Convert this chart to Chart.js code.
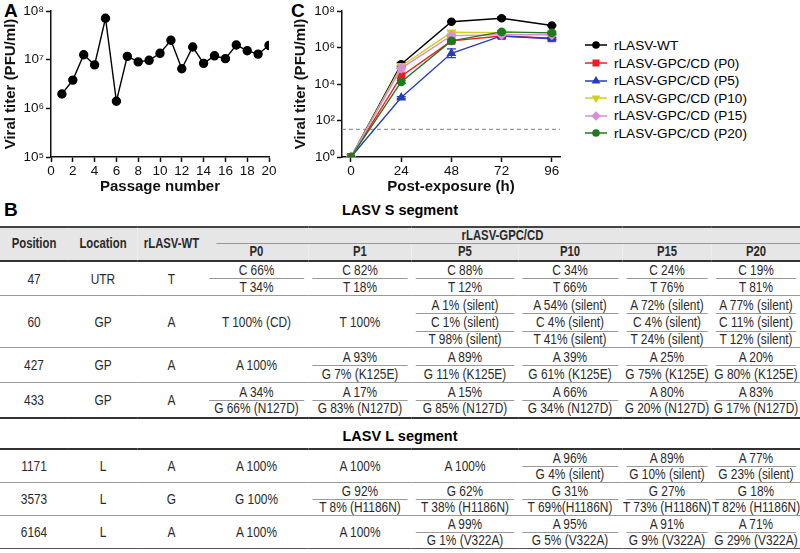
<!DOCTYPE html>
<html>
<head>
<meta charset="utf-8">
<script src="https://cdn.jsdelivr.net/npm/chart.js@4.4.1/dist/chart.umd.min.js"></script>
<style>
  body { margin: 0; width: 800px; height: 553px; position: relative; background: #fff; font-family: "Liberation Sans", Arial, sans-serif; overflow: hidden; }
  .abs { position: absolute; }
  .panel { font-weight: bold; font-size: 19px; }
  #legend div { position: absolute; left: 0; height: 16px; line-height: 16px; font-size: 13.6px; white-space: nowrap; }
  #legend canvas { vertical-align: middle; margin-right: 7px; position: relative; top: -1px; }
  .seg { font-weight: bold; font-size: 14.5px; width: 800px; text-align: center; }
  .squeeze { transform: scaleX(0.82); transform-origin: 0 0; }
  table { border-collapse: collapse; table-layout: fixed; width: 975.6px; font-size: 14.5px; color: #2a2a2a; }
  td, th { padding: 0; text-align: center; vertical-align: middle; overflow: hidden; white-space: nowrap; line-height: 16px; }
  th { font-weight: bold; background: #e6e6e6; font-size: 13.8px; }
  .sub { background: linear-gradient(#999, #999) no-repeat center top / calc(100% - 10px) 1px; }
  .rowtop td { border-top: 1.5px solid #9a9a9a; }
</style>
</head>
<body>
<div class="abs panel" style="left:4px; top:0px;">A</div>
<div class="abs panel" style="left:291px; top:0px;">C</div>
<div class="abs panel" style="left:4px; top:199px;">B</div>

<div class="abs" style="left:0; top:0; width:280px; height:200px;"><canvas id="chartA"></canvas></div>
<div class="abs" style="left:290px; top:0; width:280px; height:200px;"><canvas id="chartC"></canvas></div>
<div id="legend" class="abs" style="left:585px; top:38px; width:215px; height:110px;"></div>

<div class="abs seg" style="left:0; top:202px;">LASV S segment</div>
<div class="abs squeeze" style="left:0; top:226px;"><table id="tableS"></table></div>
<div class="abs seg" style="left:0; top:428px;">LASV L segment</div>
<div class="abs squeeze" style="left:0; top:448px;"><table id="tableL"></table></div>

<script>
// panel A: titer over passages
const passages = [1, 2, 3, 4, 5, 6, 7, 8, 9, 10, 11, 12, 13, 14, 15, 16, 17, 18, 19, 20]
const passageTiter = [1.97e6, 3.8e6, 1.26e7, 7.8e6, 7.1e7, 1.4e6, 1.17e7, 9.0e6, 9.7e6, 1.35e7,
  2.5e7, 6.5e6, 1.82e7, 8.4e6, 1.2e7, 1.05e7, 2.0e7, 1.53e7, 1.3e7, 1.96e7]

// panel C: growth kinetics
const hours = [0, 24, 48, 72, 96]
const seriesNames = ["rLASV-WT", "rLASV-GPC/CD (P0)", "rLASV-GPC/CD (P5)", "rLASV-GPC/CD (P10)", "rLASV-GPC/CD (P15)", "rLASV-GPC/CD (P20)"]
const wtTiter = [1, 1.2e5, 2.6e7, 4.0e7, 1.6e7]
const p0Titer = [1, 2.7e4, 2.3e6, 4.3e6, 3.2e6]
const p5Titer = [1, 1.8e3, 4.8e5, 4.3e6, 3.0e6]
const p10Titer = [1, 9.5e4, 6.8e6, 6.5e6, 6.5e6]
const p15Titer = [1, 7.2e4, 4.5e6, 5.0e6, 5.0e6]
const p20Titer = [1, 1.3e4, 2.3e6, 7.2e6, 6.3e6]
// error bars, half range in log10 units
const wtErr = [0, 0.1, 0.03, 0.07, 0.03]
const p0Err = [0, 0.12, 0.08, 0.08, 0.05]
const p5Err = [0, 0.05, 0.24, 0.05, 0.05]
const p10Err = [0, 0.12, 0.08, 0.05, 0.05]
const p15Err = [0, 0.15, 0.05, 0.05, 0.05]
const p20Err = [0, 0.08, 0.05, 0.05, 0.05]
const detectionLimit = 33

// panel B: tables
const pHeaders = ["P0", "P1", "P5", "P10", "P15", "P20"]
const sRows = [
  ["47", "UTR", "T", [["C 66%", "T 34%"], ["C 82%", "T 18%"], ["C 88%", "T 12%"], ["C 34%", "T 66%"], ["C 24%", "T 76%"], ["C 19%", "T 81%"]]],
  ["60", "GP", "A", [["T 100% (CD)"], ["T 100%"], ["A 1% (silent)", "C 1% (silent)", "T 98% (silent)"], ["A 54% (silent)", "C 4% (silent)", "T 41% (silent)"], ["A 72% (silent)", "C 4% (silent)", "T 24% (silent)"], ["A 77% (silent)", "C 11% (silent)", "T 12% (silent)"]]],
  ["427", "GP", "A", [["A 100%"], ["A 93%", "G 7% (K125E)"], ["A 89%", "G 11% (K125E)"], ["A 39%", "G 61% (K125E)"], ["A 25%", "G 75% (K125E)"], ["A 20%", "G 80% (K125E)"]]],
  ["433", "GP", "A", [["A 34%", "G 66% (N127D)"], ["A 17%", "G 83% (N127D)"], ["A 15%", "G 85% (N127D)"], ["A 66%", "G 34% (N127D)"], ["A 80%", "G 20% (N127D)"], ["A 83%", "G 17% (N127D)"]]]
]
const lRows = [
  ["1171", "L", "A", [["A 100%"], ["A 100%"], ["A 100%"], ["A 96%", "G 4% (silent)"], ["A 89%", "G 10% (silent)"], ["A 77%", "G 23% (silent)"]]],
  ["3573", "L", "G", [["G 100%"], ["G 92%", "T 8% (H1186N)"], ["G 62%", "T 38% (H1186N)"], ["G 31%", "T 69%(H1186N)"], ["G 27%", "T 73% (H1186N)"], ["G 18%", "T 82% (H1186N)"]]],
  ["6164", "L", "A", [["A 100%"], ["A 100%"], ["A 99%", "G 1% (V322A)"], ["A 95%", "G 5% (V322A)"], ["A 91%", "G 9% (V322A)"], ["A 71%", "G 29% (V322A)"]]]
]
const colWidths = [68, 70, 67, 103, 104, 106, 104, 90, 88]
const squeeze = 0.82

const supDigits = {"0": "⁰", "1": "¹", "2": "²", "3": "³", "4": "⁴", "5": "⁵", "6": "⁶", "7": "⁷", "8": "⁸"}
function powLabel(v) {
  let e = Math.round(Math.log10(v))
  return "10" + String(e).split("").map(d => supDigits[d]).join("")
}

const tickFont = { family: "Liberation Sans", size: 13.5 }
const titleFont = { family: "Liberation Sans", size: 15, weight: "bold" }
const axisGrid = { display: true, drawOnChartArea: false, drawTicks: true, tickLength: 5, tickWidth: 1.5, color: "#111" }
const axisBorder = { display: true, color: "#111", width: 1.5 }

// ----- chart A -----
new Chart(document.getElementById("chartA"), {
  type: "line",
  data: {
    labels: passages,
    datasets: [{
      data: passages.map((p, i) => ({ x: p, y: passageTiter[i] })),
      borderColor: "#000", backgroundColor: "#000", borderWidth: 1.4,
      pointRadius: 4, pointHoverRadius: 4, fill: false, tension: 0
    }]
  },
  options: {
    responsive: true, maintainAspectRatio: false, animation: false,
    layout: { padding: { top: 11, right: 11, left: 0, bottom: 0 } },
    plugins: { legend: { display: false }, tooltip: { enabled: false } },
    scales: {
      x: {
        type: "linear", min: 0, max: 20,
        ticks: { stepSize: 2, font: tickFont, color: "#111", padding: 1, maxRotation: 0 },
        grid: axisGrid, border: axisBorder,
        title: { display: true, text: "Passage number", font: titleFont, color: "#111", padding: { top: 2, bottom: 4 } },
        afterFit: s => { s.height = 43 }
      },
      y: {
        type: "logarithmic", min: 1e5, max: 1e8,
        afterBuildTicks: s => { s.ticks = [1e5, 1e6, 1e7, 1e8].map(v => ({ value: v, major: true })) },
        ticks: { callback: v => powLabel(v), font: tickFont, color: "#111", padding: 2 },
        grid: axisGrid, border: axisBorder,
        title: { display: true, text: "Viral titer (PFU/ml)", font: titleFont, color: "#111", padding: { top: 2, bottom: 2 } },
        afterFit: s => { s.width = 51 }
      }
    }
  }
})

// ----- chart C -----
const xMin = -4.3, xMax = 99.9
const cSeries = [wtTiter, p0Titer, p5Titer, p10Titer, p15Titer, p20Titer]
const cErrors = [wtErr, p0Err, p5Err, p10Err, p15Err, p20Err]
const cColors = ["#000000", "#ee1c24", "#2a3db8", "#cfcf22", "#d98fd6", "#1f7a1f"]
const cStyles = ["circle", "rect", "triangle", "triangle", "rectRot", "circle"]
const cRot = [0, 0, 0, 180, 0, 0]
const cRadius = [3.6, 4.6, 4.2, 4.2, 4.4, 3.6]

const errorBars = {
  id: "errorBars",
  afterDatasetDraw(chart, args) {
    let ds = chart.data.datasets[args.index]
    if (!ds.errors) return
    let ctx = chart.ctx, ys = chart.scales.y
    ctx.save()
    ctx.strokeStyle = ds.borderColor
    ctx.lineWidth = 1.3
    args.meta.data.forEach((pt, i) => {
      let e = ds.errors[i]
      if (!e) return
      let v = ds.data[i].y
      let top = ys.getPixelForValue(v * Math.pow(10, e))
      let bot = ys.getPixelForValue(v / Math.pow(10, e))
      ctx.beginPath()
      ctx.moveTo(pt.x, top); ctx.lineTo(pt.x, bot)
      ctx.moveTo(pt.x - 4.5, top); ctx.lineTo(pt.x + 4.5, top)
      ctx.moveTo(pt.x - 4.5, bot); ctx.lineTo(pt.x + 4.5, bot)
      ctx.stroke()
    })
    ctx.restore()
  }
}

const cDatasets = cSeries.map((vals, k) => ({
  label: seriesNames[k],
  data: hours.map((h, i) => ({ x: h, y: vals[i] })),
  errors: cErrors[k],
  borderColor: cColors[k], backgroundColor: cColors[k], borderWidth: 1.4,
  pointStyle: cStyles[k], rotation: cRot[k], pointRadius: cRadius[k], pointHoverRadius: cRadius[k],
  fill: false, tension: 0, order: 6 - k
}))
cDatasets.push({
  label: "limit",
  data: [{ x: xMin, y: detectionLimit }, { x: xMax, y: detectionLimit }],
  borderColor: "#999", borderWidth: 1.2, borderDash: [4, 3], pointRadius: 0, fill: false, order: 10
})

new Chart(document.getElementById("chartC"), {
  type: "line",
  data: { datasets: cDatasets },
  plugins: [errorBars],
  options: {
    responsive: true, maintainAspectRatio: false, animation: false,
    layout: { padding: { top: 11, right: 10, left: 0, bottom: 0 } },
    plugins: { legend: { display: false }, tooltip: { enabled: false } },
    scales: {
      x: {
        type: "linear", min: xMin, max: xMax,
        afterBuildTicks: s => { s.ticks = hours.map(v => ({ value: v })) },
        ticks: { font: tickFont, color: "#111", padding: 1, maxRotation: 0 },
        grid: axisGrid, border: axisBorder,
        title: { display: true, text: "Post-exposure (h)", font: titleFont, color: "#111", padding: { top: 2, bottom: 4 } },
        afterFit: s => { s.height = 43 }
      },
      y: {
        type: "logarithmic", min: 1, max: 1e8,
        afterBuildTicks: s => { s.ticks = [1, 10, 1e2, 1e3, 1e4, 1e5, 1e6, 1e7, 1e8].map(v => ({ value: v, major: true })) },
        ticks: { callback: v => powLabel(v), font: tickFont, color: "#111", padding: 2 },
        grid: axisGrid, border: axisBorder,
        title: { display: true, text: "Viral titer (PFU/ml)", font: titleFont, color: "#111", padding: { top: 2, bottom: 2 } },
        afterFit: s => { s.width = 52 }
      }
    }
  }
})

// legend for C, built from the same names and colours
const legendBox = document.getElementById("legend")
seriesNames.forEach((name, k) => {
  let row = document.createElement("div")
  row.style.top = (k * 17.6) + "px"
  let c = document.createElement("canvas")
  c.width = 22; c.height = 10
  let g = c.getContext("2d")
  g.strokeStyle = cColors[k]; g.fillStyle = cColors[k]; g.lineWidth = 1.5
  g.beginPath(); g.moveTo(0, 5); g.lineTo(22, 5); g.stroke()
  Chart.helpers.drawPoint(g, { pointStyle: cStyles[k], rotation: cRot[k], radius: cRadius[k] * 0.85, borderWidth: 1 }, 11, 5)
  g.fill()
  row.appendChild(c)
  row.appendChild(document.createTextNode(name))
  legendBox.appendChild(row)
})

// tables
function addBodyRows(table, rows, subH) {
  rows.forEach((r, ri) => {
    let n = Math.max(...r[3].map(c => c.length))
    for (let i = 0; i < n; i++) {
      let tr = document.createElement("tr")
      tr.style.height = subH + "px"
      if (i == 0 && ri > 0) tr.className = "rowtop"
      if (i == 0) {
        for (let j = 0; j < 3; j++) {
          let td = document.createElement("td")
          td.rowSpan = n
          td.textContent = r[j]
          tr.appendChild(td)
        }
      }
      r[3].forEach(cell => {
        if (cell.length == 1) {
          if (i > 0) return
          let td = document.createElement("td")
          td.rowSpan = n
          td.textContent = cell[0]
          tr.appendChild(td)
        } else {
          let td = document.createElement("td")
          td.textContent = cell[i]
          if (i > 0) td.className = "sub"
          tr.appendChild(td)
        }
      })
      table.appendChild(tr)
    }
  })
}
function addCols(table) {
  let cg = document.createElement("colgroup")
  colWidths.forEach(w => { let c = document.createElement("col"); c.style.width = (w / squeeze) + "px"; cg.appendChild(c) })
  table.appendChild(cg)
}

const tS = document.getElementById("tableS")
addCols(tS)
let h1 = document.createElement("tr")
h1.style.height = "16px"
h1.style.borderTop = "2px solid #444"
;["Position", "Location", "rLASV-WT"].forEach(t => {
  let th = document.createElement("th"); th.rowSpan = 2; th.textContent = t; h1.appendChild(th)
})
let thG = document.createElement("th")
thG.colSpan = 6
thG.textContent = "rLASV-GPC/CD"
thG.style.background = "linear-gradient(#999,#999) no-repeat right bottom / calc(100% - 14px) 1px, #e6e6e6"
h1.appendChild(thG)
tS.appendChild(h1)
let h2 = document.createElement("tr")
h2.style.height = "16px"
h2.style.borderBottom = "2px solid #333"
pHeaders.forEach(t => { let th = document.createElement("th"); th.textContent = t; h2.appendChild(th) })
tS.appendChild(h2)
addBodyRows(tS, sRows, 17.4)
tS.style.borderBottom = "2px solid #333"

const tL = document.getElementById("tableL")
addCols(tL)
tL.style.borderTop = "2px solid #333"
tL.style.borderBottom = "1.5px solid #555"
addBodyRows(tL, lRows, 16.2)
</script>
</body>
</html>
